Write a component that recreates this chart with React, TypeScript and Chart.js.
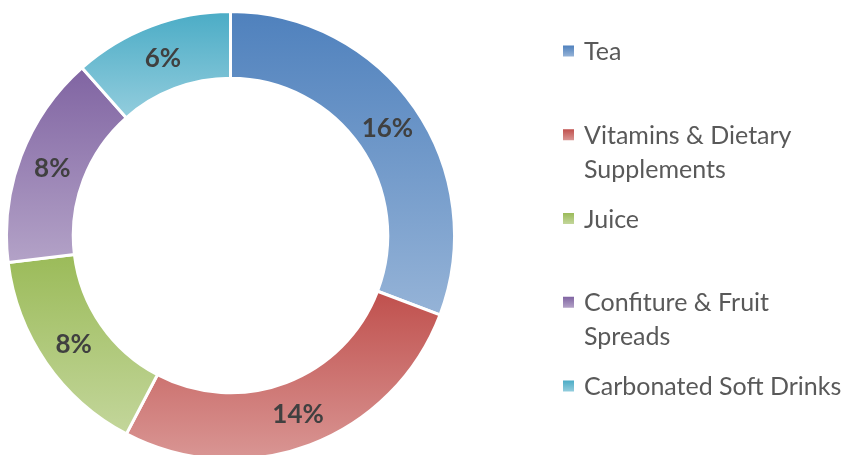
import React, { useEffect, useRef } from 'react';
import { Chart, registerables } from 'chart.js';

Chart.register(...registerables);

// ---- data ----
const categories = [
  'Tea',
  'Vitamins & Dietary Supplements',
  'Juice',
  'Confiture & Fruit Spreads',
  'Carbonated Soft Drinks',
];
const shares = [16, 14, 8, 8, 6];
const darkColors = ['#4F81BD', '#C0504D', '#9BBB59', '#8064A2', '#4BACC6'];
const lightColors = ['#95B3D7', '#D99694', '#C3D69B', '#B3A2C7', '#93CDDD'];

// ---- styling / layout ----
const FONT = 'Lato, "Liberation Sans", Arial, sans-serif';
const LABEL_COLOR = '#404040';
const LEGEND_COLOR = '#595959';
const LEGEND = { boxX: 563, box: 11, textX: 584, firstY: 51, step: 83.75, lineH: 34, wrap: 272, size: 25 };

function wrapText(ctx: CanvasRenderingContext2D, text: string, maxW: number): string[] {
  const words = text.split(' ');
  const lines: string[] = [];
  let cur = '';
  for (const w of words) {
    const test = cur ? cur + ' ' + w : w;
    if (ctx.measureText(test).width > maxW && cur) {
      lines.push(cur);
      cur = w;
    } else cur = test;
  }
  if (cur) lines.push(cur);
  return lines;
}

const gradientPlugin = {
  id: 'segGradient',
  beforeDatasetsDraw(chart: any) {
    const ctx = chart.ctx as CanvasRenderingContext2D;
    const meta = chart.getDatasetMeta(0);
    meta.data.forEach((arc: any, i: number) => {
      const { x, y, startAngle, endAngle, innerRadius, outerRadius } = arc.getProps(
        ['x', 'y', 'startAngle', 'endAngle', 'innerRadius', 'outerRadius'],
        true
      );
      let minY = Infinity;
      let maxY = -Infinity;
      const steps = 90;
      for (let s = 0; s <= steps; s++) {
        const a = startAngle + ((endAngle - startAngle) * s) / steps;
        for (const r of [innerRadius, outerRadius]) {
          const py = y + Math.sin(a) * r;
          if (py < minY) minY = py;
          if (py > maxY) maxY = py;
        }
      }
      const g = ctx.createLinearGradient(x, minY, x, maxY);
      g.addColorStop(0, darkColors[i]);
      g.addColorStop(1, lightColors[i]);
      if (Object.isFrozen(arc.options)) {
        arc.options = { ...arc.options, backgroundColor: g };
      } else {
        try {
          arc.options.backgroundColor = g;
        } catch (e) {
          arc.options = { ...arc.options, backgroundColor: g };
        }
      }
    });
  },
};

const labelPlugin = {
  id: 'segLabels',
  afterDatasetsDraw(chart: any) {
    const ctx = chart.ctx as CanvasRenderingContext2D;
    const meta = chart.getDatasetMeta(0);
    ctx.save();
    ctx.font = `bold 26px ${FONT}`;
    ctx.fillStyle = LABEL_COLOR;
    ctx.textAlign = 'center';
    ctx.textBaseline = 'middle';
    meta.data.forEach((arc: any, i: number) => {
      const p = arc.tooltipPosition(true);
      ctx.fillText(`${chart.data.datasets[0].data[i]}%`, p.x, p.y + 1);
    });
    ctx.restore();
  },
};

const legendPlugin = {
  id: 'sideLegend',
  afterDraw(chart: any) {
    const ctx = chart.ctx as CanvasRenderingContext2D;
    ctx.save();
    ctx.font = `${LEGEND.size}px ${FONT}`;
    ctx.textAlign = 'left';
    ctx.textBaseline = 'middle';
    (chart.data.labels as string[]).forEach((label, i) => {
      const cy = LEGEND.firstY + LEGEND.step * i;
      const top = cy - LEGEND.box / 2;
      const g = ctx.createLinearGradient(0, top, 0, top + LEGEND.box);
      g.addColorStop(0, darkColors[i]);
      g.addColorStop(1, lightColors[i]);
      ctx.fillStyle = g;
      ctx.fillRect(LEGEND.boxX, top, LEGEND.box, LEGEND.box);
      ctx.fillStyle = LEGEND_COLOR;
      const lines = wrapText(ctx, label, LEGEND.wrap);
      lines.forEach((ln, k) => {
        ctx.fillText(ln, LEGEND.textX, cy + k * LEGEND.lineH + 1);
      });
    });
    ctx.restore();
  },
};

export default function App() {
  const ref = useRef<HTMLCanvasElement | null>(null);

  useEffect(() => {
    if (!ref.current) return;
    const chart = new Chart(ref.current, {
      type: 'doughnut',
      data: {
        labels: categories,
        datasets: [
          {
            data: shares,
            backgroundColor: darkColors,
            borderColor: '#ffffff',
            borderWidth: 3,
            hoverOffset: 0,
          },
        ],
      },
      options: {
        responsive: false,
        animation: false,
        events: [],
        cutout: '70.2%',
        layout: { padding: { left: 5, top: 10, right: 394, bottom: 9 } },
        plugins: {
          legend: { display: false },
          tooltip: { enabled: false },
        },
      },
      plugins: [gradientPlugin, labelPlugin, legendPlugin],
    });
    return () => chart.destroy();
  }, []);

  return (
    <div
      style={{
        position: 'fixed',
        left: 0,
        top: 0,
        width: 850,
        height: 455,
        overflow: 'hidden',
        background: '#ffffff',
      }}
    >
      <canvas ref={ref} width={850} height={470} style={{ display: 'block' }} />
    </div>
  );
}
